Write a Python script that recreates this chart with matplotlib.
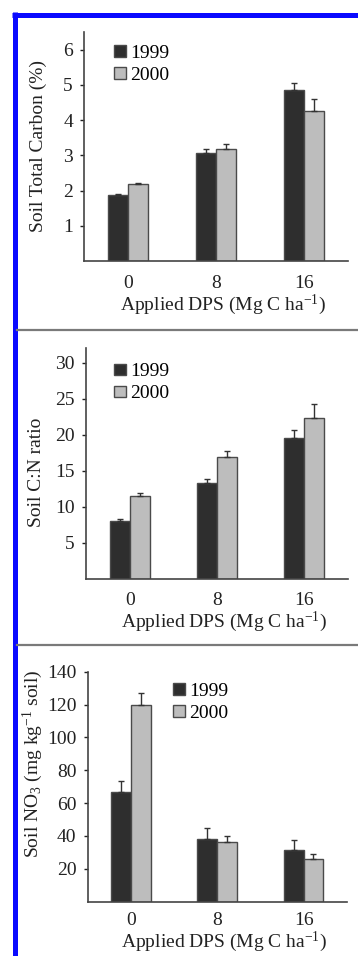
import numpy as np
import matplotlib
matplotlib.use("Agg")
import matplotlib.pyplot as plt
from matplotlib.lines import Line2D

plt.rcParams['font.family'] = ['Liberation Serif', 'DejaVu Serif']
plt.rcParams['mathtext.fontset'] = 'custom'
plt.rcParams['mathtext.rm'] = 'Liberation Serif'
plt.rcParams['mathtext.it'] = 'Liberation Serif:italic'
plt.rcParams['font.size'] = 14

# data
dps = ["0", "8", "16"]
years = ["1999", "2000"]

carbon_1999 = [1.87, 3.07, 4.86]
carbon_1999_err = [0.03, 0.11, 0.19]
carbon_2000 = [2.18, 3.19, 4.25]
carbon_2000_err = [0.04, 0.14, 0.34]

cn_1999 = [8.0, 13.3, 19.6]
cn_1999_err = [0.25, 0.5, 1.05]
cn_2000 = [11.4, 16.9, 22.3]
cn_2000_err = [0.5, 0.85, 1.95]

no3_1999 = [66.5, 38.0, 31.2]
no3_1999_err = [6.7, 6.7, 6.1]
no3_2000 = [119.8, 36.1, 25.9]
no3_2000_err = [7.3, 3.9, 3.1]

W, H = 358, 956
fig = plt.figure(figsize=(W / 100, H / 100), dpi=100)

dark = '#2e2e2e'
light = '#bdbdbd'
edge = '#4a4a4a'
bw = 0.23
xlab = "Applied DPS (Mg C ha$^{-1}$)"


def panel(rect, v1, e1, v2, e2, ylim, yticks, ylabel, ylab_xy, leg_xy, xpad):
    ax = fig.add_axes(rect)
    x = np.arange(len(dps))
    z = np.zeros(len(dps))
    ekw = dict(ecolor='#333333', elinewidth=1.0, capsize=2.5, capthick=1.0)
    ax.bar(x - bw / 2, v1, bw, color=dark, edgecolor=edge, linewidth=1.0,
           yerr=[z, e1], error_kw=ekw, label=years[0])
    ax.bar(x + bw / 2, v2, bw, color=light, edgecolor=edge, linewidth=1.0,
           yerr=[z, e2], error_kw=ekw, label=years[1])
    ax.set_xlim(-0.5, 2.5)
    ax.set_ylim(*ylim)
    ax.set_xticks(x)
    ax.set_xticklabels(dps)
    ax.set_yticks(yticks)
    for s in ['top', 'right']:
        ax.spines[s].set_visible(False)
    for s in ['left', 'bottom']:
        ax.spines[s].set_color('#444444')
        ax.spines[s].set_linewidth(1.2)
    ax.tick_params(axis='x', length=0, pad=xpad, colors='#222222')
    ax.tick_params(axis='y', length=3, width=1, pad=5, colors='#222222')
    ax.set_xlabel(xlab, x=0.527, labelpad=0.5, color='#222222')
    ax.set_ylabel(ylabel, color='#222222')
    ax.yaxis.set_label_coords(*ylab_xy)
    ax.legend(loc='upper left', bbox_to_anchor=leg_xy, frameon=False,
              handlelength=0.62, handleheight=0.55, handletextpad=0.2,
              labelspacing=0.25, borderpad=0, borderaxespad=0)
    return ax


panel([84 / W, 1 - 261 / H, 264 / W, 229 / H],
      carbon_1999, carbon_1999_err, carbon_2000, carbon_2000_err,
      (0, 6.5), [1, 2, 3, 4, 5, 6], "Soil Total Carbon (%)",
      (-0.139, 0.5), (0.114, 0.944), 10)

panel([86 / W, 1 - 578.5 / H, 262 / W, 230.2 / H],
      cn_1999, cn_1999_err, cn_2000, cn_2000_err,
      (0, 32), [5, 10, 15, 20, 25, 30], "Soil C:N ratio",
      (-0.158, 0.46), (0.107, 0.934), 10)

panel([87.7 / W, 1 - 901.5 / H, 259 / W, 229.8 / H],
      no3_1999, no3_1999_err, no3_2000, no3_2000_err,
      (0, 140), [20, 40, 60, 80, 100, 120, 140],
      "Soil NO$_3$ (mg kg$^{-1}$ soil)",
      (-0.165, 0.6), (0.329, 0.950), 7.5)

# blue frame on left and top
blue = '#0a0aff'
fig.add_artist(Line2D([14.5 / W, 14.5 / W], [0, 1 - 12 / H], color=blue,
                      linewidth=3.6, solid_capstyle='butt'))
fig.add_artist(Line2D([12 / W, 1], [1 - 14.5 / H, 1 - 14.5 / H], color=blue,
                      linewidth=3.6, solid_capstyle='butt'))

# grey separators between panels
for yy in [330, 645]:
    fig.add_artist(Line2D([17 / W, 1], [1 - yy / H, 1 - yy / H],
                          color='#7a7a7a', linewidth=1.6))

fig.savefig("out.png", dpi=100)
